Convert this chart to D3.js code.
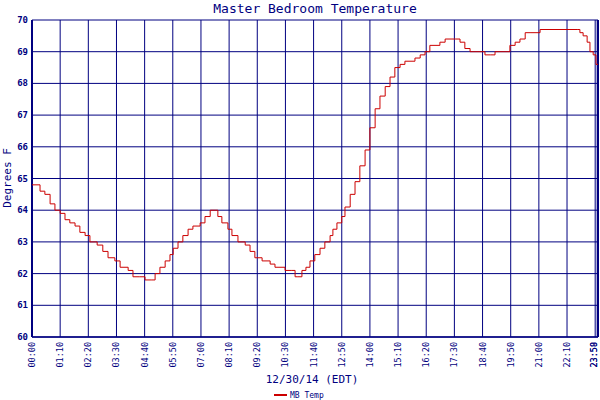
<!DOCTYPE html>
<html><head><meta charset="utf-8">
<script src="https://cdn.jsdelivr.net/npm/d3@7"></script>
<style>body{margin:0;background:#fff}</style></head>
<body><svg id="c" width="600" height="400"></svg>
<script>
const minutes=[0,20,32,45,57,70,82,94,107,119,132,144,162,176,189,206,219,239,251,268,281,298,306,318,331,343,351,363,375,388,400,418,430,443,455,462,472,487,497,512,530,542,554,572,592,604,629,646,654,661,671,681,691,703,716,728,741,748,758,770,778,791,803,815,828,840,853,865,878,890,902,915,927,952,965,977,989,1014,1027,1052,1064,1076,1089,1114,1126,1139,1151,1176,1188,1201,1213,1226,1238,1263,1325,1357,1362,1370,1380,1387,1395,1402,1407];
const temps=[64.8,64.6,64.5,64.2,64.0,63.9,63.7,63.6,63.5,63.3,63.2,63.0,62.9,62.7,62.5,62.4,62.2,62.1,61.9,61.9,61.8,61.8,62.0,62.2,62.4,62.6,62.8,63.0,63.2,63.4,63.5,63.6,63.8,64.0,64.0,63.8,63.6,63.4,63.2,63.0,62.9,62.7,62.5,62.4,62.3,62.2,62.1,62.1,61.9,61.9,62.1,62.2,62.4,62.6,62.8,63.0,63.2,63.4,63.6,63.8,64.1,64.5,64.9,65.4,65.9,66.6,67.2,67.6,67.9,68.2,68.5,68.6,68.7,68.8,68.9,69.0,69.2,69.3,69.4,69.4,69.3,69.1,69.0,69.0,68.9,68.9,69.0,69.0,69.2,69.3,69.4,69.6,69.6,69.7,69.7,69.7,69.6,69.5,69.3,69.0,68.9,68.6,68.6];
const tickMinutes=[0,70,140,210,280,350,420,490,560,630,700,770,840,910,980,1050,1120,1190,1260,1330,1400,1405];
const tickLabels=["00:00","01:10","02:20","03:30","04:40","05:50","07:00","08:10","09:20","10:30","11:40","12:50","14:00","15:10","16:20","17:30","18:40","19:50","21:00","22:10","23:58","23:59"];
const yTicks=[60,61,62,63,64,65,66,67,68,69,70];
const navy="#000080",font="'DejaVu Sans Mono',monospace";
const svg=d3.select("#c");
const L=32,R=598,T=20,B=337;
const x=d3.scaleLinear().domain([0,1407]).range([L,R]);
const y=d3.scaleLinear().domain([60,70]).range([B,T]);
const g=svg.append("g");
g.selectAll(".vg").data(tickMinutes).join("line").attr("x1",d=>x(d)).attr("x2",d=>x(d)).attr("y1",T).attr("y2",B).attr("stroke",navy).attr("stroke-width",1);
g.selectAll(".hg").data(yTicks).join("line").attr("x1",L).attr("x2",R).attr("y1",d=>y(d)).attr("y2",d=>y(d)).attr("stroke",navy).attr("stroke-width",1);
g.append("line").attr("x1",L).attr("x2",L).attr("y1",T).attr("y2",B).attr("stroke",navy).attr("stroke-width",2);
g.append("line").attr("x1",R).attr("x2",R).attr("y1",T).attr("y2",B).attr("stroke",navy).attr("stroke-width",2);
g.append("line").attr("x1",L).attr("x2",R).attr("y1",B).attr("y2",B).attr("stroke",navy).attr("stroke-width",1.5);
svg.selectAll(".yl").data(yTicks).join("text").attr("x",L-4).attr("y",d=>y(d)+3).attr("text-anchor","end").attr("font-family",font).attr("font-size",9).attr("font-weight","bold").attr("fill",navy).text(d=>d);
svg.selectAll(".xl").data(tickMinutes).join("text").attr("transform",(d,i)=>`translate(${Math.min(x(d)+3,597)},342) rotate(-90)`).attr("text-anchor","end").attr("font-family",font).attr("font-size",8.5).attr("fill",navy).text((d,i)=>tickLabels[i]);
const line=d3.line().x((d,i)=>x(minutes[i])).y(d=>y(d)).curve(d3.curveStepAfter);
svg.append("path").datum(temps).attr("d",line).attr("fill","none").attr("stroke","#cc0000").attr("stroke-width",1);
svg.append("text").attr("x",315).attr("y",13).attr("text-anchor","middle").attr("font-family",font).attr("font-size",13).attr("fill",navy).text("Master Bedroom Temperature");
svg.append("text").attr("transform","translate(11,178) rotate(-90)").attr("text-anchor","middle").attr("font-family",font).attr("font-size",11).attr("fill",navy).text("Degrees F");
svg.append("text").attr("x",312).attr("y",383).attr("text-anchor","middle").attr("font-family",font).attr("font-size",11).attr("fill",navy).text("12/30/14 (EDT)");
svg.append("line").attr("x1",274).attr("x2",287).attr("y1",395).attr("y2",395).attr("stroke","#cc0000").attr("stroke-width",2);
svg.append("text").attr("x",290).attr("y",398).attr("font-family",font).attr("font-size",8).attr("fill",navy).text("MB Temp");
</script></body></html>
